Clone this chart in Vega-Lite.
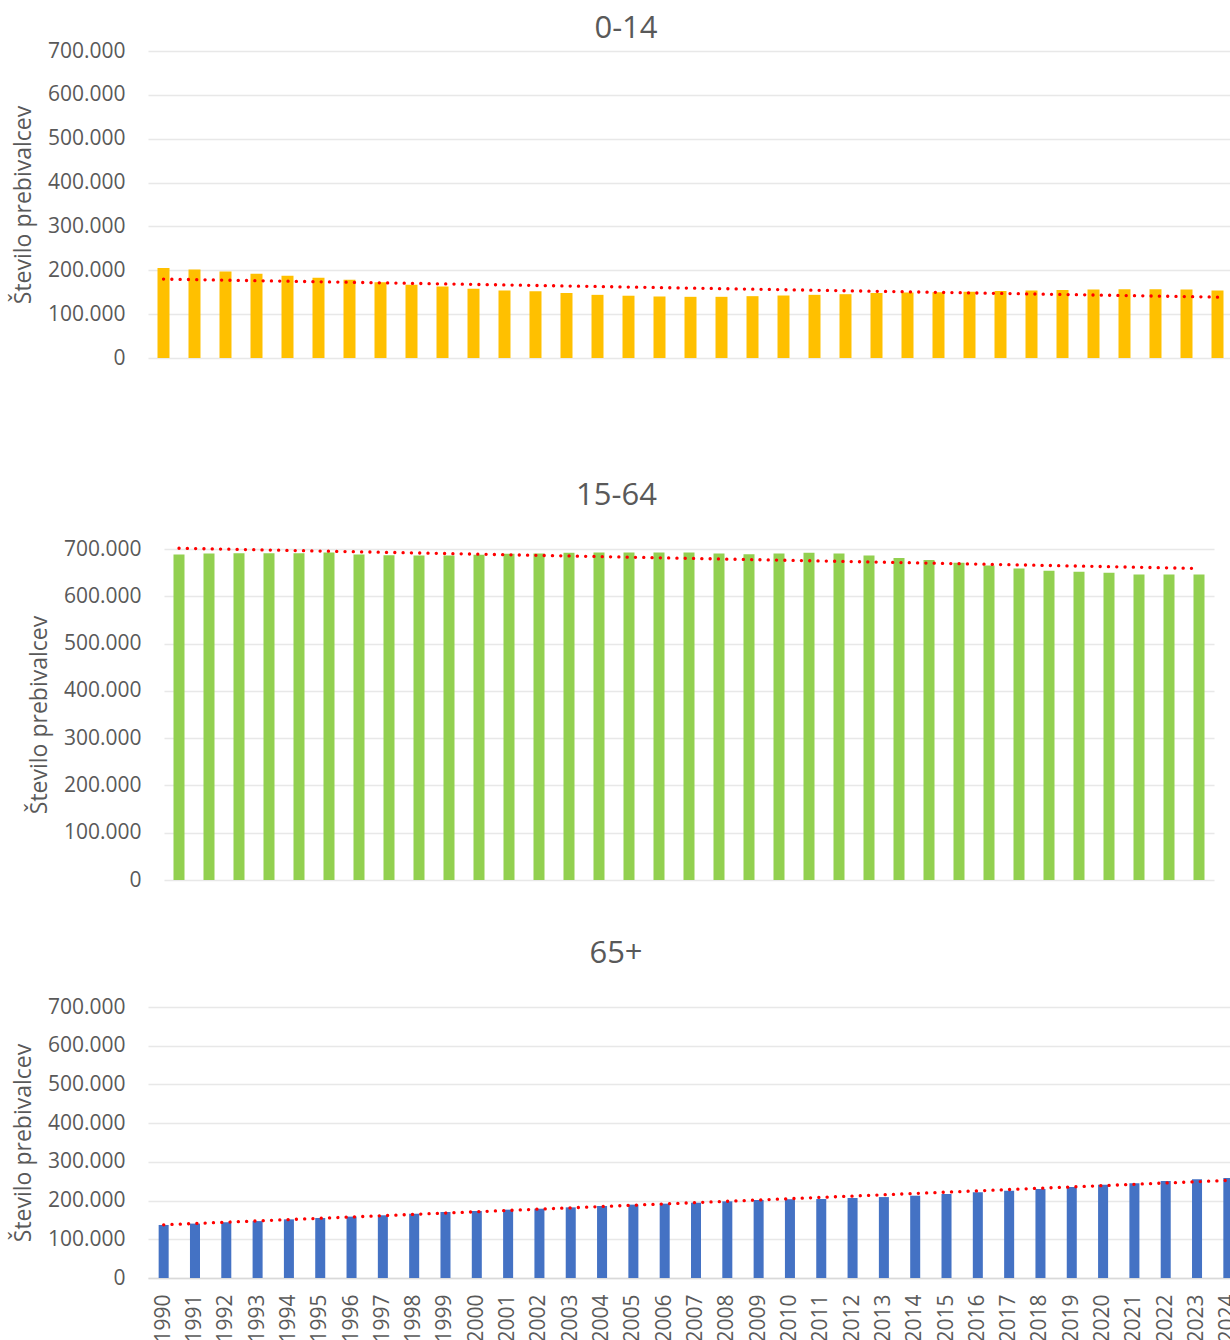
{
  "$schema": "https://vega.github.io/schema/vega-lite/v6.json",
  "padding": {"left": 12, "top": 13, "right": 0, "bottom": 0},
  "datasets": {
    "d014": [
      {"year": 1990, "value": 205000}, {"year": 1991, "value": 202000}, {"year": 1992, "value": 197500},
      {"year": 1993, "value": 192000}, {"year": 1994, "value": 187500}, {"year": 1995, "value": 183000},
      {"year": 1996, "value": 178500}, {"year": 1997, "value": 172500}, {"year": 1998, "value": 167000},
      {"year": 1999, "value": 163000}, {"year": 2000, "value": 158000}, {"year": 2001, "value": 154000},
      {"year": 2002, "value": 152000}, {"year": 2003, "value": 148000}, {"year": 2004, "value": 144000},
      {"year": 2005, "value": 142000}, {"year": 2006, "value": 140000}, {"year": 2007, "value": 139500},
      {"year": 2008, "value": 139500}, {"year": 2009, "value": 141000}, {"year": 2010, "value": 142500},
      {"year": 2011, "value": 144000}, {"year": 2012, "value": 145500}, {"year": 2013, "value": 148000},
      {"year": 2014, "value": 149500}, {"year": 2015, "value": 150000}, {"year": 2016, "value": 151000},
      {"year": 2017, "value": 152500}, {"year": 2018, "value": 154000}, {"year": 2019, "value": 155000},
      {"year": 2020, "value": 156000}, {"year": 2021, "value": 157000}, {"year": 2022, "value": 157000},
      {"year": 2023, "value": 156000}, {"year": 2024, "value": 154000}
    ],
    "d1564": [
      {"year": 1990, "value": 688500}, {"year": 1991, "value": 690500}, {"year": 1992, "value": 691000},
      {"year": 1993, "value": 691000}, {"year": 1994, "value": 691000}, {"year": 1995, "value": 692500},
      {"year": 1996, "value": 688500}, {"year": 1997, "value": 687000}, {"year": 1998, "value": 686000},
      {"year": 1999, "value": 686000}, {"year": 2000, "value": 688000}, {"year": 2001, "value": 690000},
      {"year": 2002, "value": 690500}, {"year": 2003, "value": 692000}, {"year": 2004, "value": 692500},
      {"year": 2005, "value": 692500}, {"year": 2006, "value": 692500}, {"year": 2007, "value": 692500},
      {"year": 2008, "value": 690500}, {"year": 2009, "value": 689000}, {"year": 2010, "value": 690500},
      {"year": 2011, "value": 692000}, {"year": 2012, "value": 690500}, {"year": 2013, "value": 686000},
      {"year": 2014, "value": 681000}, {"year": 2015, "value": 677000}, {"year": 2016, "value": 671000},
      {"year": 2017, "value": 665000}, {"year": 2018, "value": 659000}, {"year": 2019, "value": 654000},
      {"year": 2020, "value": 652000}, {"year": 2021, "value": 650000}, {"year": 2022, "value": 646000},
      {"year": 2023, "value": 646000}, {"year": 2024, "value": 646000}
    ],
    "d65": [
      {"year": 1990, "value": 137000}, {"year": 1991, "value": 140500}, {"year": 1992, "value": 144000},
      {"year": 1993, "value": 147000}, {"year": 1994, "value": 151500}, {"year": 1995, "value": 155000},
      {"year": 1996, "value": 158500}, {"year": 1997, "value": 162000}, {"year": 1998, "value": 166000},
      {"year": 1999, "value": 170500}, {"year": 2000, "value": 173000}, {"year": 2001, "value": 176500},
      {"year": 2002, "value": 179000}, {"year": 2003, "value": 182500}, {"year": 2004, "value": 186000},
      {"year": 2005, "value": 189500}, {"year": 2006, "value": 192000}, {"year": 2007, "value": 194500},
      {"year": 2008, "value": 198000}, {"year": 2009, "value": 201500}, {"year": 2010, "value": 203500},
      {"year": 2011, "value": 204000}, {"year": 2012, "value": 206700}, {"year": 2013, "value": 209000},
      {"year": 2014, "value": 212600}, {"year": 2015, "value": 217000}, {"year": 2016, "value": 221400},
      {"year": 2017, "value": 225500}, {"year": 2018, "value": 230000}, {"year": 2019, "value": 235000},
      {"year": 2020, "value": 241000}, {"year": 2021, "value": 244600}, {"year": 2022, "value": 250600},
      {"year": 2023, "value": 255000}, {"year": 2024, "value": 258000}
    ]
  },
  "spacing": 112,
  "vconcat": [
    {
      "width": 1085,
      "height": 307,
      "title": {"text": "0-14", "dx": -64.5, "offset": -5},
      "data": {"name": "d014"},
      "encoding": {
        "x": {"field": "year", "type": "ordinal", "axis": null, "scale": {"paddingInner": 0.613, "paddingOuter": 0.3065}},
        "y": {"field": "value", "type": "quantitative", "scale": {"domain": [0, 700000], "nice": false},
              "axis": {"values": [0, 100000, 200000, 300000, 400000, 500000, 600000, 700000], "format": ",d", "title": "Število prebivalcev", "labelPadding": 23, "titlePadding": 12}}
      },
      "layer": [
        {"mark": {"type": "bar", "color": "#FFC000"}},
        {
          "transform": [{"regression": "value", "on": "year"}],
          "mark": {"type": "line", "color": "#FF0000", "strokeWidth": 3.3, "strokeDash": [0.1, 8.2], "strokeCap": "round"}
        }
      ]
    },
    {
      "spacing": 48,
      "vconcat": [
        {
          "width": 1066,
          "height": 331,
          "title": {"text": "15-64", "dx": -64.5, "offset": 26},
          "data": {"name": "d1564"},
          "encoding": {
            "x": {"field": "year", "type": "ordinal", "axis": null, "scale": {"range": [16, 1066], "paddingInner": 0.633, "paddingOuter": 0.3165}},
            "y": {"field": "value", "type": "quantitative", "scale": {"domain": [0, 700000], "nice": false},
                  "axis": {"values": [0, 100000, 200000, 300000, 400000, 500000, 600000, 700000], "format": ",d", "title": "Število prebivalcev", "labelPadding": 23, "titlePadding": 12, "offset": -16}}
          },
          "layer": [
            {"mark": {"type": "bar", "color": "#92D050"}},
            {
              "transform": [{"regression": "value", "on": "year"}],
              "mark": {"type": "line", "color": "#FF0000", "strokeWidth": 3.3, "strokeDash": [0.1, 8.2], "strokeCap": "round"}
            }
          ]
        },
        {
          "width": 1096,
          "height": 271,
          "title": {"text": "65+", "dx": -80, "offset": 26},
          "data": {"name": "d65"},
          "encoding": {
            "x": {"field": "year", "type": "ordinal", "scale": {"paddingInner": 0.68, "paddingOuter": 0.34},
                  "axis": {"title": null, "labelAngle": 270, "labelPadding": 16, "tickSize": 0, "domain": true, "domainColor": "#D9D9D9", "domainWidth": 1.5, "labelOverlap": false, "grid": false}},
            "y": {"field": "value", "type": "quantitative", "scale": {"domain": [0, 700000], "nice": false},
                  "axis": {"values": [0, 100000, 200000, 300000, 400000, 500000, 600000, 700000], "format": ",d", "title": "Število prebivalcev", "labelPadding": 23, "titlePadding": 12}}
          },
          "layer": [
            {"mark": {"type": "bar", "color": "#4472C4"}},
            {
              "transform": [{"regression": "value", "on": "year"}],
              "mark": {"type": "line", "color": "#FF0000", "strokeWidth": 3.3, "strokeDash": [0.1, 8.2], "strokeCap": "round"}
            }
          ]
        }
      ]
    }
  ],
  "config": {
    "view": {"stroke": null},
    "font": "Open Sans",
    "locale": {"number": {"decimal": ",", "thousands": ".", "grouping": [3], "currency": ["", " €"]}},
    "axis": {"labelFont": "Open Sans", "labelFontSize": 21, "labelColor": "#595959", "titleFont": "Open Sans", "titleFontSize": 23, "titleColor": "#595959", "titleFontWeight": "normal", "gridColor": "#E8E8E8", "gridWidth": 1.5, "ticks": false, "domain": false, "labelOverlap": false},
    "title": {"font": "Open Sans", "fontSize": 31, "fontWeight": "normal", "color": "#595959", "anchor": "middle", "baseline": "alphabetic"}
  }
}
